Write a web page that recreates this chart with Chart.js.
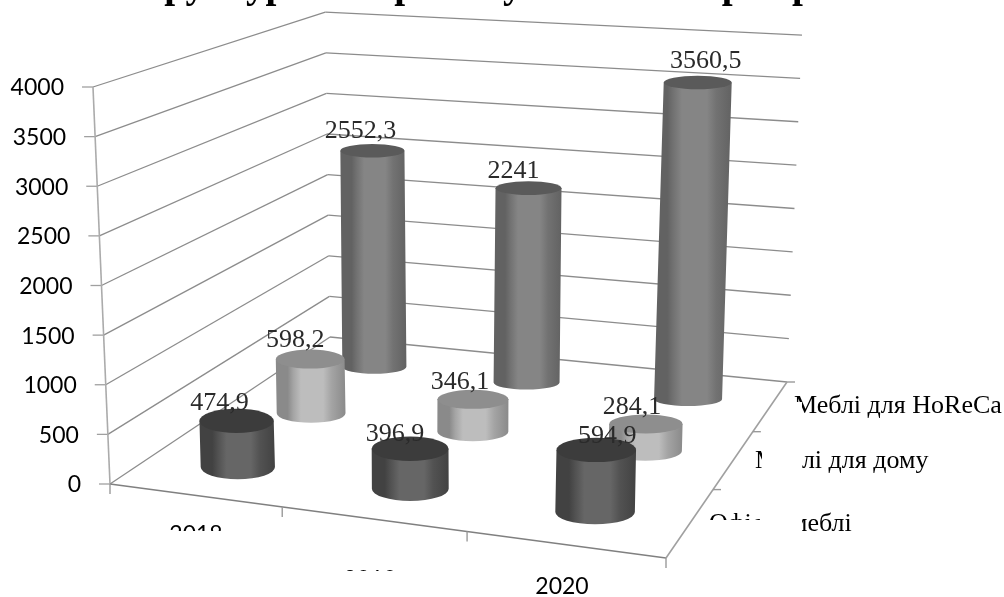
<!DOCTYPE html>
<html lang="uk">
<head>
<meta charset="UTF-8"/>
<title>Структура товарообігу меблів</title>
<style>
  html, body { margin:0; padding:0; background:#fff; }
  canvas { display:block; }
</style>
<script src="https://cdn.jsdelivr.net/npm/chart.js"></script>
</head>
<body>
<canvas id="chart" width="1004" height="597"></canvas>
<script>
const years = ['2018', '2019', '2020'];
const segments = ['Офісні меблі', 'Меблі для дому', 'Меблі для HoReCa'];
const officeValues = [474.9, 396.9, 594.9];
const homeValues = [598.2, 346.1, 284.1];
const horecaValues = [2552.3, 2241, 3560.5];
const valueTicks = [0, 500, 1000, 1500, 2000, 2500, 3000, 3500, 4000];

// floor of the box in screen space: front-left, front-right, back-right, back-left
const floor = [[110, 484], [666, 558], [787, 382], [330, 337]];
// wall height at each floor corner, before perspective division
const wallHeight = [397, 400, 396, 404];
// vertical edges converge on this point far below the chart
const vanish = [445, 8300];

// unit square -> floor quad
function squareToQuad(q) {
  const [[x0, y0], [x1, y1], [x2, y2], [x3, y3]] = q;
  const dx1 = x1 - x2, dx2 = x3 - x2, sx = x0 - x1 + x2 - x3;
  const dy1 = y1 - y2, dy2 = y3 - y2, sy = y0 - y1 + y2 - y3;
  const den = dx1 * dy2 - dx2 * dy1;
  const g = (sx * dy2 - dx2 * sy) / den;
  const h = (dx1 * sy - sx * dy1) / den;
  return { a: x1 - x0 + g * x1, b: x3 - x0 + h * x3, c: x0, d: y1 - y0 + g * y1, e: y3 - y0 + h * y3, f: y0, g, h };
}
const H = squareToQuad(floor);

// u: along years, v: along values, z: into the page (all 0..1)
function project(u, v, z) {
  const w = 1 + H.g * u + H.h * z;
  const bx = (H.a * u + H.b * z + H.c) / w;
  const by = (H.d * u + H.e * z + H.f) / w;
  const tall = (wallHeight[0] * (1 - u) * (1 - z) + wallHeight[1] * u * (1 - z)
    + wallHeight[2] * u * z + wallHeight[3] * (1 - u) * z) / w * v;
  return { x: bx + (bx - vanish[0]) / (vanish[1] - by) * tall, y: by - tall, w };
}

function line(ctx, a, b, color, width) {
  ctx.strokeStyle = color;
  ctx.lineWidth = width;
  ctx.beginPath();
  ctx.moveTo(a.x, a.y);
  ctx.lineTo(b.x, b.y);
  ctx.stroke();
}

// text that is only visible inside the given rectangles
function clippedText(ctx, text, x, y, rects) {
  ctx.save();
  ctx.beginPath();
  rects.forEach(r => ctx.rect(r[0], r[1], r[2], r[3]));
  ctx.clip();
  ctx.fillText(text, x, y);
  ctx.restore();
}

function drawBox(ctx, scales) {
  const yScale = scales.y;
  valueTicks.forEach(t => {
    const v = yScale.getDecimalForPixel(yScale.getPixelForValue(t));
    const front = project(0, v, 0), corner = project(0, v, 1), right = project(1, v, 1);
    line(ctx, front, corner, '#8c8c8c', 1.3);
    line(ctx, corner, right, '#8c8c8c', 1.3);
    line(ctx, { x: front.x - 11, y: front.y }, front, '#a0a0a0', 1.3);
    ctx.fillStyle = '#000';
    ctx.font = '23px Lato';
    ctx.textAlign = 'right';
    ctx.textBaseline = 'middle';
    ctx.fillText(String(t), front.x - 29, front.y + 1);
  });

  // value axis and floor edges
  line(ctx, project(0, 1, 0), project(0, 0, 0), '#ababab', 1.6);
  line(ctx, project(0, 0, 0), project(1, 0, 0), '#808080', 1.6);
  line(ctx, project(1, 0, 0), project(1, 0, 1), '#a0a0a0', 1.6);

  for (let i = 0; i <= years.length; i++) {
    const p = project(i / years.length, 0, 0);
    line(ctx, p, { x: p.x, y: p.y + 10 }, '#9a9a9a', 1.4);
  }
  for (let i = 1; i <= segments.length; i++) {
    const p = project(1, 0, i / segments.length);
    line(ctx, p, { x: p.x + 8, y: p.y }, '#9a9a9a', 1.4);
  }
}

function drawCylinder(ctx, u, v, z, look) {
  const base = project(u, 0, z), top = project(u, v, z);
  // cylinders stand slightly off the wall grid
  base.x += 2; base.y += 2; top.x += 2; top.y += 2;
  const rx = 38 / base.w, ry = 13.5 - 8 * z;
  const grad = ctx.createLinearGradient(Math.min(top.x, base.x) - rx, 0, Math.max(top.x, base.x) + rx, 0);
  grad.addColorStop(0, look.edge);
  grad.addColorStop(0.17, look.edge);
  grad.addColorStop(0.25, look.mid);
  grad.addColorStop(0.36, look.light);
  grad.addColorStop(0.68, look.light);
  grad.addColorStop(0.8, look.mid);
  grad.addColorStop(1, look.edge);

  ctx.fillStyle = grad;
  ctx.beginPath();
  ctx.moveTo(top.x - rx, top.y);
  ctx.lineTo(base.x - rx, base.y);
  ctx.ellipse(base.x, base.y, rx, ry, 0, Math.PI, 0, true);
  ctx.lineTo(top.x + rx, top.y);
  ctx.closePath();
  ctx.fill();

  ctx.fillStyle = look.cap;
  ctx.beginPath();
  ctx.ellipse(top.x, top.y, rx, ry, 0, 0, Math.PI * 2);
  ctx.fill();
  return top;
}

// hand placement of the value labels relative to the top of each cylinder
const labelShift = [
  [[-17, -18], [-15, -15], [11, -14]],
  [[-15, -19], [-13, -17], [-14, -17]],
  [[-12, -20], [-15, -17], [8, -21]]
];

const cylinderPlugin = {
  id: 'cylinders',
  beforeDatasetsDraw(chart) {
    const { ctx, scales, data } = chart;
    const toU = i => scales.x.getDecimalForPixel(scales.x.getPixelForValue(i));
    const toZ = i => scales.depth.getDecimalForPixel(scales.depth.getPixelForValue(i));
    drawBox(ctx, scales);

    // back row first so the nearer cylinders overlap it
    const tops = [];
    for (let s = data.datasets.length - 1; s >= 0; s--) {
      const ds = data.datasets[s];
      tops[s] = ds.data.map((value, i) => {
        const v = scales.y.getDecimalForPixel(scales.y.getPixelForValue(value));
        return drawCylinder(ctx, toU(i), v, toZ(s), ds.look);
      });
    }

    ctx.font = '26px "Liberation Serif"';
    ctx.textAlign = 'center';
    ctx.textBaseline = 'middle';
    ctx.fillStyle = '#2a2a2a';
    data.datasets.forEach((ds, s) => {
      ds.data.forEach((value, i) => {
        const shift = labelShift[s][i];
        ctx.fillText(String(value).replace('.', ','), tops[s][i].x + shift[0], tops[s][i].y + shift[1]);
      });
    });

    // year labels, the first two are cut off by pasted-over blocks
    ctx.font = '23px Lato';
    ctx.fillStyle = '#000';
    clippedText(ctx, years[0], 196, 535, [[150, 510, 100, 21]]);
    clippedText(ctx, years[1], 370, 580, [[330, 560, 100, 11]]);
    ctx.fillText(years[2], 562, 587);

    // series names on the right, also partly covered
    ctx.font = '26px "Liberation Serif"';
    ctx.textAlign = 'left';
    ctx.textBaseline = 'alphabetic';
    clippedText(ctx, segments[2], 794, 413, [[802, 385, 202, 40], [790, 395, 12, 7]]);
    clippedText(ctx, segments[1], 755, 468, [[802, 440, 202, 40], [750, 440, 12, 40]]);
    clippedText(ctx, segments[0], 709, 531, [[802, 505, 202, 40], [700, 505, 60, 15]]);

    // heading runs off the top of the canvas, only its descenders stay visible
    ctx.font = 'bold 39px "Liberation Serif"';
    ctx.fillStyle = '#000';
    ctx.fillText('Структура товарообігу меблів за', 117, -3);
    ctx.fillText('три', 702, -3);
    ctx.fillText('роки', 792, -3);
  }
};

new Chart(document.getElementById('chart'), {
  type: 'bar',
  data: {
    labels: years,
    datasets: [
      { label: segments[0], data: officeValues, backgroundColor: 'transparent', look: { edge: '#424242', mid: '#525252', light: '#666666', cap: '#3c3c3c' } },
      { label: segments[1], data: homeValues, backgroundColor: 'transparent', look: { edge: '#8a8a8a', mid: '#a4a4a4', light: '#bdbdbd', cap: '#8e8e8e' } },
      { label: segments[2], data: horecaValues, backgroundColor: 'transparent', look: { edge: '#626262', mid: '#727272', light: '#858585', cap: '#5a5a5a' } }
    ]
  },
  options: {
    responsive: false,
    animation: false,
    layout: { padding: 0 },
    plugins: { legend: { display: false }, title: { display: false }, tooltip: { enabled: false } },
    scales: {
      x: { type: 'category', offset: true, display: false },
      y: { type: 'linear', min: 0, max: 4000, display: false },
      depth: { type: 'category', axis: 'x', position: 'bottom', labels: segments, offset: true, display: false }
    }
  },
  plugins: [cylinderPlugin]
});
</script>
</body>
</html>
